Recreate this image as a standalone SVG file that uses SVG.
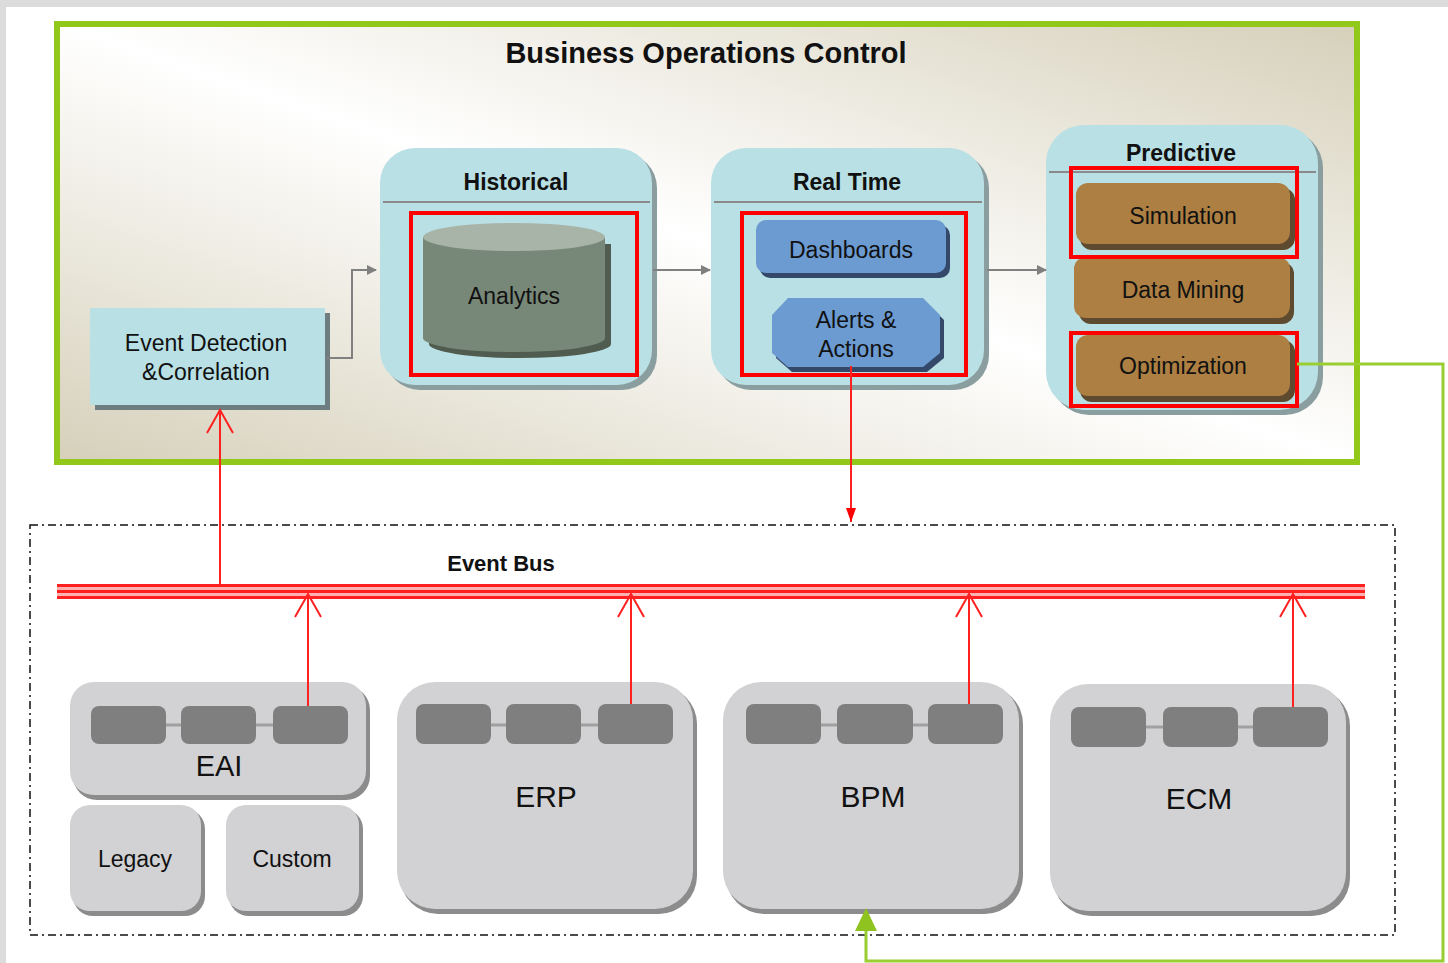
<svg xmlns="http://www.w3.org/2000/svg" width="1448" height="963" viewBox="0 0 1448 963">
<defs>
  <linearGradient id="bg" x1="1" y1="0" x2="0" y2="1">
    <stop offset="0" stop-color="#d6d0ba"/>
    <stop offset="0.5" stop-color="#ffffff"/>
    <stop offset="1" stop-color="#d6d0ba"/>
  </linearGradient>
  <marker id="grayArrow" viewBox="0 0 10 10" refX="9" refY="5" markerWidth="10" markerHeight="10" markerUnits="userSpaceOnUse" orient="auto">
    <path d="M0,0 L10,5 L0,10 z" fill="#808080"/>
  </marker>
  <marker id="redFilled" viewBox="0 0 10 14" refX="5" refY="14" markerWidth="10" markerHeight="14" markerUnits="userSpaceOnUse" orient="0">
    <path d="M0,0 L10,0 L5,14 z" fill="#ff0000"/>
  </marker>
</defs>
<style>
  text { font-family: "Liberation Sans", Arial, sans-serif; fill: #111; text-anchor: middle; }
  .bold { font-weight: bold; }
  .cont { fill: #b9e0e4; }
  .contShadow { fill: #8a9ea0; }
  .hdr { stroke: #8a8a8a; stroke-width: 2; }
  .redbox { fill: none; stroke: #ff0000; stroke-width: 4; }
  .brown { fill: #ad7f42; }
  .brownShadow { fill: #5e4a2e; }
  .blue { fill: #6c9bd2; }
  .blueShadow { fill: #34496a; }
  .sys { fill: #d2d2d4; }
  .sysShadow { fill: #8c8c8c; }
  .slot { fill: #7f7f7f; }
  .slotLink { stroke: #a0a0a0; stroke-width: 3; }
  .red { stroke: #ff2020; stroke-width: 2; fill: none; }
  .gray { stroke: #808080; stroke-width: 2; fill: none; }
  .green { stroke: #9acd32; stroke-width: 3; fill: none; }
</style>

<!-- page -->
<rect x="0" y="0" width="1448" height="963" fill="#ffffff"/>
<rect x="0" y="0" width="1448" height="7" fill="#dcdcdc"/>
<rect x="0" y="0" width="6" height="963" fill="#dcdcdc"/>

<!-- Business Operations Control frame -->
<g id="boc">
  <rect x="60" y="27" width="1300" height="438" fill="#9a9a9a" opacity="0.5"/>
  <rect x="57" y="24" width="1300" height="438" fill="url(#bg)" stroke="#92c81a" stroke-width="6"/>
  <text class="bold" x="706" y="63" font-size="29">Business Operations Control</text>
</g>

<!-- Event Bus frame -->
<g id="eventbus-frame">
  <rect x="30" y="525" width="1365" height="410" fill="none" stroke="#111" stroke-width="1.5" stroke-dasharray="8,4,2,4"/>
  <text class="bold" x="501" y="571" font-size="22">Event Bus</text>
</g>

<g id="eventbus">
  <rect x="57" y="584" width="1308" height="15" fill="#ffb0b0"/>
  <line x1="57" y1="585.5" x2="1365" y2="585.5" stroke="#ff2020" stroke-width="3"/>
  <line x1="57" y1="591.5" x2="1365" y2="591.5" stroke="#ff2020" stroke-width="3"/>
  <line x1="57" y1="597.5" x2="1365" y2="597.5" stroke="#ff2020" stroke-width="3"/>
</g>

<!-- Event Detection -->
<g id="event-detection">
  <rect x="95" y="313" width="235" height="97" fill="#6d7d80"/>
  <rect x="90" y="308" width="235" height="97" fill="#b9e0e4"/>
  <text x="206" y="351" font-size="23">Event Detection</text>
  <text x="206" y="380" font-size="23">&amp;Correlation</text>
</g>

<!-- Historical -->
<g id="historical">
  <rect x="385" y="153" width="272" height="237" rx="35" class="contShadow"/>
  <rect x="380" y="148" width="272" height="237" rx="35" class="cont"/>
  <line x1="383" y1="202" x2="650" y2="202" class="hdr"/>
  <text class="bold" x="516" y="190" font-size="23">Historical</text>
  <g id="analytics">
    <path d="M425,240 L425,340 A91,14 0 0 0 607,340 L607,240 z" fill="#505c50" transform="translate(4,4)"/>
    <path d="M423,237 L423,338 A91,14 0 0 0 605,338 L605,237 z" fill="#788878"/>
    <ellipse cx="514" cy="237" rx="91" ry="14" fill="#a9b4a8"/>
    <text x="514" y="304" font-size="23">Analytics</text>
  </g>
  <rect x="411" y="213" width="226" height="162" class="redbox"/>
</g>

<!-- Real Time -->
<g id="realtime">
  <rect x="716" y="153" width="273" height="237" rx="35" class="contShadow"/>
  <rect x="711" y="148" width="273" height="237" rx="35" class="cont"/>
  <line x1="714" y1="202" x2="982" y2="202" class="hdr"/>
  <text class="bold" x="847" y="190" font-size="23">Real Time</text>
  <g id="dashboards">
    <rect x="760" y="225" width="190" height="53" rx="10" class="blueShadow"/>
    <rect x="756" y="220" width="190" height="53" rx="10" class="blue"/>
    <text x="851" y="258" font-size="23">Dashboards</text>
  </g>
  <g id="alerts">
    <polygon points="792,303 927,303 944,320 944,358 927,372 792,372 776,358 776,320" class="blueShadow"/>
    <polygon points="788,298 923,298 940,315 940,353 923,367 788,367 772,353 772,315" class="blue"/>
    <text x="856" y="328" font-size="23">Alerts &amp;</text>
    <text x="856" y="357" font-size="23">Actions</text>
  </g>
  <rect x="742" y="213" width="224" height="162" class="redbox"/>
</g>

<!-- Predictive -->
<g id="predictive">
  <rect x="1051" y="130" width="272" height="285" rx="38" class="contShadow"/>
  <rect x="1046" y="125" width="272" height="285" rx="38" class="cont"/>
  <line x1="1049" y1="172" x2="1316" y2="172" class="hdr"/>
  <text class="bold" x="1181" y="161" font-size="23">Predictive</text>
  <g id="simulation">
    <rect x="1080" y="188" width="215" height="62" rx="12" class="brownShadow"/>
    <rect x="1076" y="183" width="214" height="61" rx="12" class="brown"/>
    <text x="1183" y="224" font-size="23">Simulation</text>
  </g>
  <g id="datamining">
    <rect x="1079" y="262" width="215" height="62" rx="12" class="brownShadow"/>
    <rect x="1074" y="257" width="216" height="61" rx="12" class="brown"/>
    <text x="1183" y="298" font-size="23">Data Mining</text>
  </g>
  <g id="optimization">
    <rect x="1080" y="340" width="215" height="62" rx="12" class="brownShadow"/>
    <rect x="1076" y="335" width="214" height="61" rx="12" class="brown"/>
    <text x="1183" y="374" font-size="23">Optimization</text>
  </g>
  <rect x="1071" y="168" width="226" height="89" class="redbox"/>
  <rect x="1071" y="333" width="226" height="73" class="redbox"/>
</g>

<!-- Systems -->
<g id="eai">
  <rect x="73" y="686" width="297" height="114" rx="24" class="sysShadow"/>
  <rect x="70" y="682" width="296" height="113" rx="24" class="sys"/>
  <line x1="128" y1="725" x2="310" y2="725" class="slotLink"/>
  <rect x="91" y="706" width="75" height="38" rx="8" class="slot"/>
  <rect x="181" y="706" width="75" height="38" rx="8" class="slot"/>
  <rect x="273" y="706" width="75" height="38" rx="8" class="slot"/>
  <text x="219" y="776" font-size="29">EAI</text>
</g>
<g id="legacy">
  <rect x="73" y="809" width="132" height="107" rx="20" class="sysShadow"/>
  <rect x="70" y="805" width="131" height="106" rx="20" class="sys"/>
  <text x="135" y="867" font-size="23">Legacy</text>
</g>
<g id="custom">
  <rect x="229" y="809" width="134" height="107" rx="20" class="sysShadow"/>
  <rect x="226" y="805" width="133" height="106" rx="20" class="sys"/>
  <text x="292" y="867" font-size="23">Custom</text>
</g>
<g id="erp">
  <rect x="400" y="686" width="297" height="228" rx="38" class="sysShadow"/>
  <rect x="397" y="682" width="296" height="227" rx="38" class="sys"/>
  <line x1="453" y1="725" x2="635" y2="725" class="slotLink"/>
  <rect x="416" y="704" width="75" height="40" rx="8" class="slot"/>
  <rect x="506" y="704" width="75" height="40" rx="8" class="slot"/>
  <rect x="598" y="704" width="75" height="40" rx="8" class="slot"/>
  <text x="546" y="807" font-size="30">ERP</text>
</g>
<g id="bpm">
  <rect x="726" y="686" width="297" height="228" rx="38" class="sysShadow"/>
  <rect x="723" y="682" width="296" height="227" rx="38" class="sys"/>
  <line x1="783" y1="725" x2="965" y2="725" class="slotLink"/>
  <rect x="746" y="704" width="75" height="40" rx="8" class="slot"/>
  <rect x="837" y="704" width="76" height="40" rx="8" class="slot"/>
  <rect x="928" y="704" width="75" height="40" rx="8" class="slot"/>
  <text x="873" y="807" font-size="30">BPM</text>
</g>
<g id="ecm">
  <rect x="1053" y="688" width="297" height="228" rx="38" class="sysShadow"/>
  <rect x="1050" y="684" width="296" height="227" rx="38" class="sys"/>
  <line x1="1108" y1="727" x2="1290" y2="727" class="slotLink"/>
  <rect x="1071" y="707" width="75" height="40" rx="8" class="slot"/>
  <rect x="1163" y="707" width="75" height="40" rx="8" class="slot"/>
  <rect x="1253" y="707" width="75" height="40" rx="8" class="slot"/>
  <text x="1199" y="809" font-size="30">ECM</text>
</g>

<!-- Connectors -->
<g id="connectors">
  <polyline points="326,358 352,358 352,270 376,270" class="gray" marker-end="url(#grayArrow)"/>
  <line x1="653" y1="270" x2="710" y2="270" class="gray" marker-end="url(#grayArrow)"/>
  <line x1="987" y1="270" x2="1046" y2="270" class="gray" marker-end="url(#grayArrow)"/>

  <line x1="851" y1="366" x2="851" y2="522" class="red" marker-end="url(#redFilled)"/>

  <line x1="220" y1="584" x2="220" y2="410" class="red"/>
  <polyline points="207,433 220,410 233,433" class="red"/>

  <line x1="308" y1="706" x2="308" y2="594" class="red"/>
  <polyline points="295,617 308,594 321,617" class="red"/>
  <line x1="631" y1="704" x2="631" y2="594" class="red"/>
  <polyline points="618,617 631,594 644,617" class="red"/>
  <line x1="969" y1="704" x2="969" y2="594" class="red"/>
  <polyline points="956,617 969,594 982,617" class="red"/>
  <line x1="1293" y1="707" x2="1293" y2="594" class="red"/>
  <polyline points="1280,617 1293,594 1306,617" class="red"/>

  <polyline points="1297,364 1443,364 1443,961 866,961 866,930" class="green"/>
  <path d="M866,908 L877,931 L855,931 z" fill="#8fc31f"/>
</g>
</svg>
